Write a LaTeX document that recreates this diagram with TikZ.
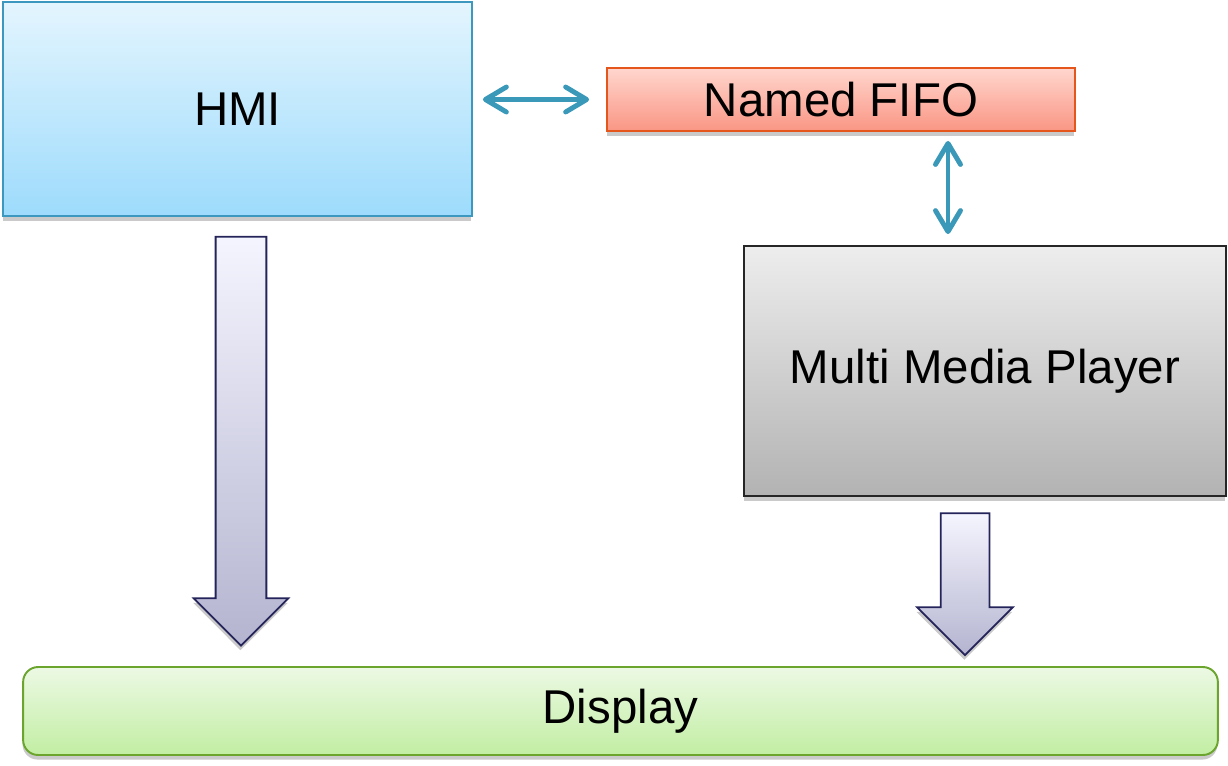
\documentclass[tikz,border=0pt]{standalone}
\usepackage{fontspec}
\setmainfont{Liberation Sans}
\usetikzlibrary{arrows.meta, positioning, shapes.arrows, shadows, calc}

\definecolor{hmiline}{HTML}{3C98BE}
\definecolor{fifoline}{HTML}{E5561C}
\definecolor{displine}{HTML}{6BA52E}
\definecolor{linkcol}{HTML}{3A98B9}
\definecolor{flowline}{HTML}{24245A}

\begin{document}
\begin{tikzpicture}[x=0.02cm, y=-0.02cm,
    boxshadow/.style={drop shadow={shadow xshift=-0.3pt, shadow yshift=-2.6pt, opacity=0.35, fill=black!60}},
    block/.style={rectangle, line width=1.1pt, boxshadow, font=\fontsize{27}{32}\selectfont, inner sep=0pt},
    hmibox/.style={block, draw=hmiline, top color={rgb,255:red,228;green,245;blue,254}, bottom color={rgb,255:red,157;green,219;blue,252}},
    fifobox/.style={block, draw=fifoline, top color={rgb,255:red,255;green,214;blue,206}, bottom color={rgb,255:red,250;green,150;blue,132}},
    playerbox/.style={block, draw=black!85, top color=black!7, bottom color=black!30},
    displaybox/.style={block, rounded corners=0.3cm, draw=displine, top color={rgb,255:red,236;green,249;blue,228}, bottom color={rgb,255:red,194;green,238;blue,163}},
    link/.style={draw=linkcol, line width=2.8pt, line cap=round, {Straight Barb[length=4.2mm, width=5mm, round]}-{Straight Barb[length=4.2mm, width=5mm, round]}},
    flow/.style={single arrow, shape border rotate=270, draw=flowline, line width=1pt, inner sep=0pt, top color=black!3!blue!4, bottom color={rgb,255:red,180;green,180;blue,208}, boxshadow}]

    \useasboundingbox (0,0) rectangle (1228,765);

    % the boxes
    \node[hmibox, minimum width=9.38cm, minimum height=4.28cm] (hmi) at (237.5,109) {HMI};
    \node[fifobox, minimum width=9.36cm, minimum height=1.26cm] (fifo) at (841,99.5) {Named FIFO};
    \node[playerbox, minimum width=9.64cm, minimum height=5cm] (player) at (985,371) {Multi Media Player};
    \node[displaybox, minimum width=23.9cm, minimum height=1.76cm] (display) at (620.5,711) {Display};

    % big down arrows
    \node[flow, minimum height=8.18cm, single arrow head extend=0.44cm] (hmiflow) at (241,428.5) {\phantom{\rule{0.98cm}{0.98cm}}};
    \node[flow, minimum height=2.84cm, single arrow head extend=0.47cm] (playerflow) at (965,572) {\phantom{\rule{0.94cm}{0.94cm}}};

    % fifo links
    \draw[link] ($(hmi.east |- fifo.west)+(10,0)$) -- ($(fifo.west)+(-17,0)$);
    \draw[link] ($(fifo.south)+(107,9)$) -- ($(player.north)+(-37,-11)$);

\end{tikzpicture}
\end{document}
